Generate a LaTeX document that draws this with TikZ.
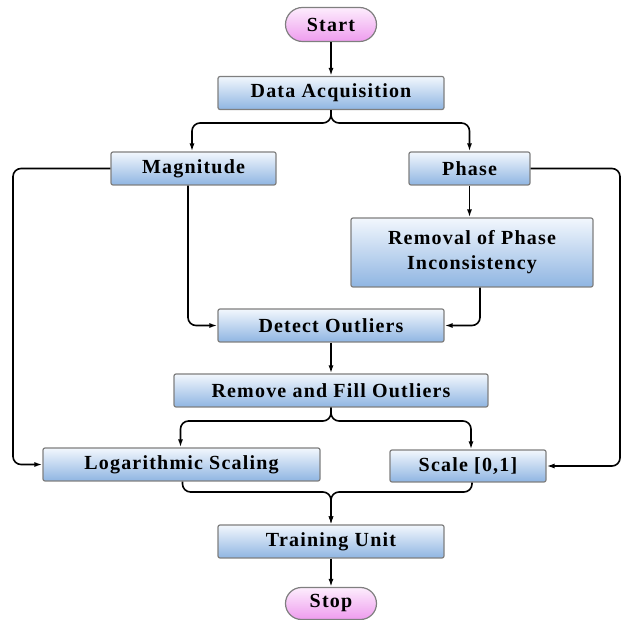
\documentclass[tikz,border=0pt]{standalone}
\usepackage{fontspec}
\setmainfont{Liberation Serif}[LetterSpace=6]
\usepackage{tikz}
\usetikzlibrary{arrows.meta, positioning, shapes.misc}

\definecolor{boxtop}{HTML}{F2F7FD}
\definecolor{boxbot}{HTML}{8FB5E2}
\definecolor{termtop}{HTML}{FDEDFD}
\definecolor{termbot}{HTML}{EE9CEE}
\definecolor{rim}{HTML}{7F7F7F}

\tikzset{
  proc/.style={draw=rim, line width=1.2pt, rounded corners=2pt,
    top color=boxtop, bottom color=boxbot, font=\fontsize{20}{23}\selectfont\bfseries,
    minimum height=33pt, align=center, inner sep=0pt},
  term/.style={draw=rim, line width=1.2pt, rounded rectangle,
    top color=termtop, bottom color=termbot, font=\fontsize{20}{23}\selectfont\bfseries,
    minimum height=34pt, minimum width=91pt, inner sep=0pt},
  flow/.style={line width=1.6pt, rounded corners=8pt, -{Latex[length=8pt,width=5pt]}}
}

\begin{document}
\begin{tikzpicture}[x=1pt, y=-1pt]
      \useasboundingbox (0,0) rectangle (622,620);
      % main column
      \node[term] (start) at (331,24.5) {Start};
      \node[proc, minimum width=226pt] (acq) at (331,93) {Data Acquisition};
      \node[proc, minimum width=165pt] (mag) at (193.5,168.5) {Magnitude};
      \node[proc, minimum width=121pt] (ph) at (469.5,168.5) {Phase};
      \node[proc, minimum width=242pt, minimum height=69pt] (rem) at (472,252.5) {Removal of Phase\\[2pt]Inconsistency};
      \node[proc, minimum width=226pt] (det) at (331,325.5) {Detect Outliers};
      \node[proc, minimum width=314pt] (fill) at (331,390.5) {Remove and Fill Outliers};
      \node[proc, minimum width=277pt] (log) at (181.5,464.5) {Logarithmic Scaling};
      \node[proc, minimum width=156pt, minimum height=32pt] (sc) at (468,466) {Scale [0,1]};
      \node[proc, minimum width=226pt] (train) at (331,541.5) {Training Unit};
      \node[term, minimum height=32pt] (stop) at (331,603.5) {Stop};

      % helper points
      \coordinate (split1) at (331,123);
      \coordinate (split2) at (331,421);
      \coordinate (merge) at (331,492);
      \coordinate (lft) at (13,300);
      \coordinate (rgt) at (620,300);

      \draw[flow] (start) -- (acq);
      \draw[flow] (acq.south) -- (split1) -| ([xshift=-1.5pt]mag.north);
      \draw[flow] (acq.south) -- (split1) -| (ph.north);
      \draw[flow] (mag.west) -- (mag.west -| lft) -- (lft |- log.west) -- (log.west);
      \draw[flow] (ph.east) -- (ph.east -| rgt) -- (rgt |- sc.east) -- (sc.east);
      \draw[flow] ([xshift=-5.5pt]mag.south) |- (det.west);
      \draw[flow] (ph.south) -- (ph.south |- rem.north);
      \draw[flow] ([xshift=8pt]rem.south) |- (det.east);
      \draw[flow] (det) -- (fill);
      \draw[flow] (fill.south) -- (split2) -| ([xshift=-1pt]log.north);
      \draw[flow] (fill.south) -- (split2) -| ([xshift=3pt]sc.north);
      \draw[flow] ([xshift=1pt]log.south) |- (merge) -- (train.north);
      \draw[flow] ([xshift=4pt]sc.south) |- (merge) -- (train.north);
      \draw[flow] (train) -- (stop);
\end{tikzpicture}
\end{document}
